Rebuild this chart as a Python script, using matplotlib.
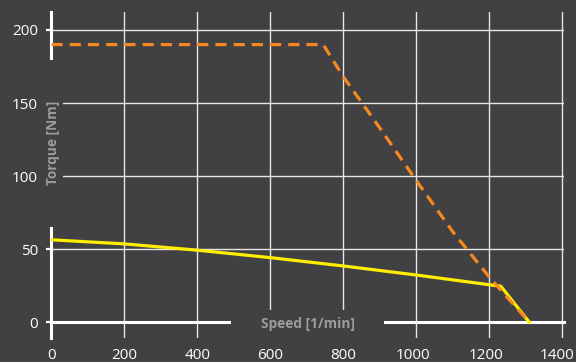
import matplotlib
matplotlib.use('Agg')
from matplotlib import pyplot as plt
from matplotlib.patches import Rectangle
from matplotlib.transforms import ScaledTranslation

# peak torque curve (dashed orange)
peak_speed = [0, 745, 800, 900, 1000, 1100, 1200, 1310]
peak_torque = [190, 190, 168, 133, 97, 62, 31, 0]

# continuous torque curve (solid yellow)
cont_speed = [0, 200, 400, 600, 800, 1000, 1232, 1310]
cont_torque = [56.4, 53.6, 49.3, 44.2, 38.5, 32.3, 24.6, 0]

x_ticks = [0, 200, 400, 600, 800, 1000, 1200, 1400]
y_ticks = [0, 50, 100, 150, 200]

bg = '#414143'
label_grey = '#9c9c9c'

plt.rcParams['font.family'] = ['Open Sans', 'DejaVu Sans']

fig = plt.figure(figsize=(5.76, 3.62), dpi=100, facecolor=bg)
ax = fig.add_axes([0.0894, 0.0663, 0.8903, 0.9006])
ax.set_facecolor(bg)

ax.plot(cont_speed, cont_torque, color='#ffee00', linewidth=2.3, zorder=3)
ax.plot(peak_speed, peak_torque, color='#f7871f', linewidth=2.3,
        dashes=(3.5, 2.2), zorder=3.1)

ax.set_xlim(0, 1406)
ax.set_ylim(-10.8, 212.3)
ax.set_xticks(x_ticks)
ax.set_yticks(y_ticks)

ax.set_axisbelow(True)
ax.grid(True, color='#e6e6e6', linewidth=1.0)

for side in ['top', 'right']:
    ax.spines[side].set_visible(False)
ax.spines['bottom'].set_position(('data', 0))
for side in ['left', 'bottom']:
    ax.spines[side].set_color('white')
    ax.spines[side].set_linewidth(2.2)

ax.tick_params(axis='y', colors='white', labelsize=11, length=3.6, width=1.6,
               pad=6.2, direction='out')
ax.tick_params(axis='x', colors='white', labelsize=11, length=0, pad=18.5)

# the wider labels sit a little left of their grid line
fig.canvas.draw()
for lbl in ax.get_xticklabels():
    txt = lbl.get_text()
    if txt == '1400':
        shift = -5.5
    elif len(txt) == 4:
        shift = -3
    else:
        shift = 0
    if shift:
        lbl.set_transform(lbl.get_transform() +
                          ScaledTranslation(shift / 100, 0, fig.dpi_scale_trans))

# gaps in the axis lines behind the axis titles
ax.add_patch(Rectangle((-21, 65), 52, 114.5, facecolor=bg, edgecolor='none',
                       zorder=2.6, clip_on=False))
ax.add_patch(Rectangle((491, -13), 421, 21.3, facecolor=bg, edgecolor='none',
                       zorder=2.6, clip_on=False))

ax.text(5, 123, 'Torque [Nm]', rotation=90, ha='center', va='center',
        color=label_grey, fontsize=9.8, fontweight='bold', zorder=4)
ax.text(702, -1, 'Speed [1/min]', ha='center', va='center',
        color=label_grey, fontsize=9.8, fontweight='bold', zorder=4)

plt.savefig('out.png', dpi=100, facecolor=bg)
